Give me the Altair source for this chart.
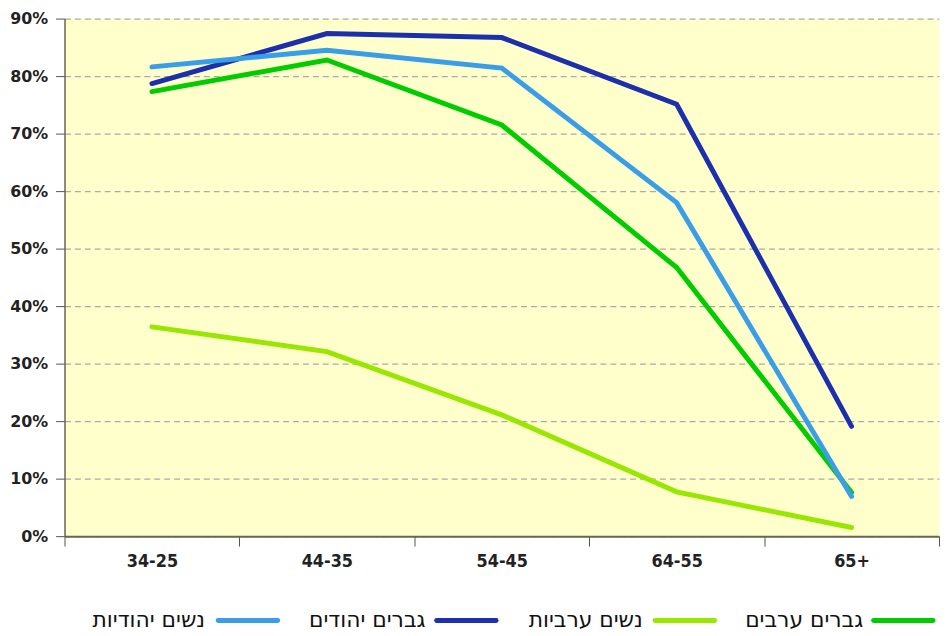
import altair as alt
import pandas as pd

ages = ["34-25", "44-35", "54-45", "64-55", "65+"]
series = ["נשים ערביות", "גברים ערבים", "גברים יהודים", "נשים יהודיות"]
colors = ["#99e600", "#00cc00", "#1c30ad", "#3a9de8"]

arab_women = [36.4, 32.1, 21.1, 7.7, 1.5]
arab_men = [77.3, 82.8, 71.5, 46.7, 7.6]
jewish_men = [78.7, 87.4, 86.7, 75.1, 19.1]
jewish_women = [81.6, 84.5, 81.4, 58.0, 6.9]

legend_order = ["נשים יהודיות", "גברים יהודים", "נשים ערביות", "גברים ערבים"]

rows = []
for name, vals in zip(series, [arab_women, arab_men, jewish_men, jewish_women]):
    for i, (a, v) in enumerate(zip(ages, vals)):
        rows.append({"age": a, "idx": i, "series": name, "value": v})
df = pd.DataFrame(rows)

FONT_NUM = "DejaVu Sans"
FONT_COND = "DejaVu Sans Condensed, DejaVu Sans"

color_scale = alt.Scale(domain=series, range=colors)

main = alt.Chart(df).mark_line(strokeWidth=5, strokeCap="round", strokeJoin="miter").encode(
    x=alt.X("age:N", sort=ages, bandPosition=0.5,
            scale=alt.Scale(type="band", paddingInner=0, paddingOuter=0),
            axis=alt.Axis(title=None, labelAngle=0, tickBand="extent", tickSize=10,
                          tickColor="#555544", domainColor="#666655", domainWidth=2,
                          labelFont=FONT_COND, labelFontSize=18,
                          labelFontWeight="bold", labelColor="#222222", labelPadding=7, grid=False)),
    y=alt.Y("value:Q", scale=alt.Scale(domain=[0, 90], nice=False),
            axis=alt.Axis(title=None, values=list(range(0, 91, 10)), labelExpr="datum.value + '%'",
                          tickSize=9, tickColor="#555544", domainColor="#666655", domainWidth=1.5,
                          labelFont=FONT_NUM, labelFontSize=16, labelFontWeight="bold",
                          labelColor="#222222", labelPadding=8, minExtent=57,
                          grid=True, gridDash=[6, 4], gridColor="#aaaaaa", gridWidth=1.2)),
    color=alt.Color("series:N", scale=color_scale, legend=None),
    order=alt.Order("idx:Q"),
).properties(width=882, height=522,
             view=alt.ViewBackground(fill="#ffffcc", stroke="transparent"))

ldf = pd.DataFrame({"series": legend_order})
lx = alt.X("series:N", sort=legend_order,
           scale=alt.Scale(type="point", range=[85, 746], padding=0), axis=None)
leg_text = alt.Chart(ldf).mark_text(align="center", baseline="middle", font="DejaVu Sans", fontSize=22,
                                     color="#111111").encode(
    x=lx, y=alt.value(10), text="series:N")
leg_line = alt.Chart(ldf).mark_rule(strokeWidth=5, strokeCap="round", xOffset=70, x2Offset=130).encode(
    x=lx, x2="series:N", y=alt.value(10),
    color=alt.Color("series:N", scale=color_scale, legend=None))
legend = alt.layer(leg_line, leg_text).properties(
    width=882, height=20, view=alt.ViewBackground(fill="transparent", stroke="transparent"))

chart = alt.vconcat(main, legend, spacing=39).properties(
    padding={"left": 0, "top": 0, "right": 0, "bottom": 0}
).configure_view(strokeWidth=0)

chart.save("out.html", embed_options={"renderer": "svg", "actions": False})
